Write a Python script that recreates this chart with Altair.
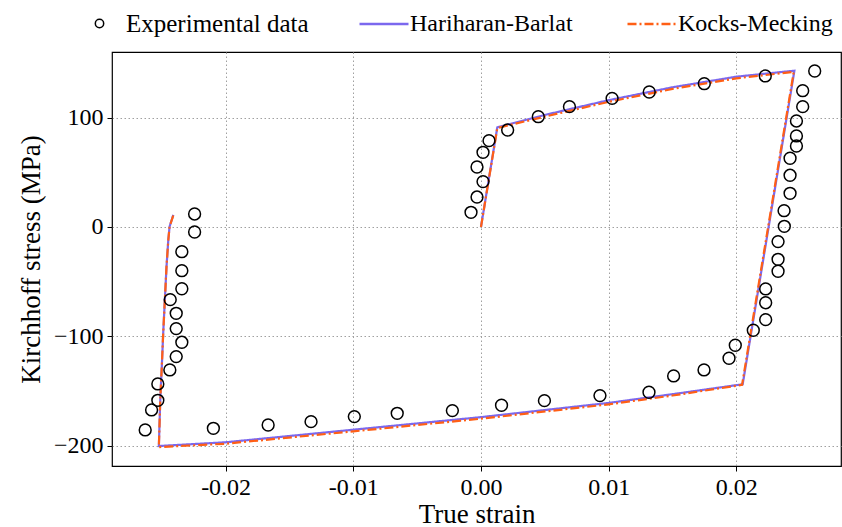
import altair as alt
import pandas as pd

# Experimental cyclic test data (true strain, Kirchhoff stress in MPa)
exp_strain = [
    -0.00078, -0.00031, 0.00016, -0.00031, 0.00016, 0.00063, 0.00209, 0.00449,
    0.00693, 0.01027, 0.01318, 0.01749, 0.02227, 0.02614,
    0.02520, 0.02520, 0.02471, 0.02471, 0.02471, 0.02421, 0.02421, 0.02421,
    0.02374, 0.02376, 0.02327, 0.02327, 0.02327, 0.02230, 0.02230, 0.02230,
    0.02133, 0.01992, 0.01943, 0.01747, 0.01509, 0.01316, 0.00932, 0.00497,
    0.00161, -0.00224, -0.00656, -0.00992, -0.01331, -0.01667, -0.02096,
    -0.02630, -0.02580, -0.02531, -0.02531, -0.02437, -0.02387, -0.02343,
    -0.02387, -0.02387, -0.02434, -0.02343, -0.02343, -0.02343, -0.02243, -0.02243,
]
exp_stress = [
    13.4, 27.4, 41.5, 54.9, 68.3, 79.0, 88.7, 100.9,
    110.1, 117.7, 123.5, 131.1, 138.2, 142.7,
    124.7, 110.1, 97.0, 83.3, 74.1, 62.9, 47.3, 30.8,
    14.9, 0.6, -13.4, -29.6, -40.5, -56.7, -69.3, -84.8,
    -94.5, -108.2, -120.1, -130.8, -136.3, -151.2, -154.3, -158.9,
    -163.1, -168.0, -170.5, -173.5, -178.1, -181.2, -184.2,
    -185.7, -167.4, -158.6, -143.6, -130.8, -118.6, -105.5,
    -93.0, -79.0, -66.5, -56.5, -40.0, -22.6, -4.6, 11.9,
]

# Model predictions
hb_strain = [0.0, 0.00128, 0.0050, 0.0100, 0.0150, 0.0200, 0.02455,
             0.02050, 0.0150, 0.0100, 0.0, -0.0100, -0.0200, -0.02523,
             -0.02512, -0.02500, -0.02489, -0.02476, -0.02463, -0.02449,
             -0.02439, -0.02410]
hb_stress = [0.0, 91.2, 102.5, 116.0, 127.8, 137.5, 143.0,
             -143.9, -153.0, -161.0, -174.0, -185.5, -197.0, -200.4,
             -158.3, -127.8, -97.3, -66.8, -36.3, -11.9,
             0.3, 11.0]

km_strain = [0.0, 0.00128, 0.0050, 0.0100, 0.0150, 0.0200, 0.02450,
             0.02045, 0.0150, 0.0100, 0.0, -0.0100, -0.0200, -0.02523,
             -0.02512, -0.02500, -0.02489, -0.02476, -0.02463, -0.02449,
             -0.02439, -0.02410]
km_stress = [0.0, 90.5, 101.0, 114.5, 126.3, 136.0, 142.0,
             -144.5, -154.2, -162.3, -175.4, -187.0, -198.3, -201.4,
             -158.3, -127.8, -97.3, -66.8, -36.3, -11.9,
             0.3, 10.5]

x_ticks = [-0.02, -0.01, 0.0, 0.01, 0.02]
y_ticks = [-200, -100, 0, 100]

FONT = "Liberation Serif"

exp_df = pd.DataFrame({"strain": exp_strain, "stress": exp_stress,
                       "series": "Experimental data"})
model_df = pd.concat([
    pd.DataFrame({"strain": hb_strain, "stress": hb_stress,
                  "series": "Hariharan-Barlat", "order": range(len(hb_strain))}),
    pd.DataFrame({"strain": km_strain, "stress": km_stress,
                  "series": "Kocks-Mecking", "order": range(len(km_strain))}),
])

x_scale = alt.Scale(domain=[-0.0289, 0.0282], nice=False, zero=False)
y_scale = alt.Scale(domain=[-218.7, 160.1], nice=False, zero=False)

x_axis = alt.Axis(
    title="True strain", values=x_ticks,
    labelExpr="replace(format(datum.value, '.2f'), '\u2212', '-')",
)
y_axis = alt.Axis(
    title="Kirchhoff stress (MPa)", values=y_ticks,
    labelExpr="replace(format(datum.value, 'd'), '-', '\u2212')",
)

series_names = ["Hariharan-Barlat", "Kocks-Mecking"]

model_legend = alt.Legend(
    title=None, orient="none", legendX=246, legendY=-54,
    direction="horizontal", symbolType="stroke", symbolSize=2401,
    symbolStrokeWidth=2.5, labelOffset=0, columnPadding=49, labelLimit=0,
    labelFont=FONT, labelFontSize=24, labelColor="black", padding=0,
)

lines = alt.Chart(model_df).mark_line(strokeWidth=2.2, clip=True).encode(
    x=alt.X("strain:Q", scale=x_scale, axis=x_axis),
    y=alt.Y("stress:Q", scale=y_scale, axis=y_axis),
    order="order:Q",
    color=alt.Color(
        "series:N",
        scale=alt.Scale(domain=series_names, range=["#7B68EE", "#FF5F15"]),
        legend=model_legend,
    ),
    strokeDash=alt.StrokeDash(
        "series:N",
        scale=alt.Scale(domain=series_names, range=[[1, 0], [9, 3, 2, 3]]),
        legend=model_legend,
    ),
)

points = alt.Chart(exp_df).mark_point(
    filled=False, color="black", size=140, strokeWidth=1.5, opacity=1,
).encode(
    x=alt.X("strain:Q", scale=x_scale),
    y=alt.Y("stress:Q", scale=y_scale),
    shape=alt.Shape(
        "series:N",
        scale=alt.Scale(domain=["Experimental data"], range=["circle"]),
        legend=alt.Legend(
            title=None, orient="none", legendX=-25, legendY=-41,
            symbolSize=70, symbolStrokeColor="black", symbolStrokeWidth=1.5,
            symbolFillColor="transparent", labelOffset=14, labelLimit=0,
            labelFont=FONT, labelFontSize=25, labelColor="black", padding=0,
        ),
    ),
)

chart = alt.layer(lines, points).properties(
    width=729, height=414,
    autosize=alt.AutoSizeParams(type="none"),
    padding={"left": 112, "top": 52, "right": 1, "bottom": 61},
).configure(
    font=FONT,
    background="white",
).configure_view(
    stroke="black", strokeWidth=1.2,
).configure_axis(
    domain=False,
    grid=True, gridColor="#a0a0a0", gridDash=[1.5, 2.5], gridWidth=1,
    tickColor="black", tickSize=5, tickWidth=1,
    labelFont=FONT, labelFontSize=24, labelColor="black",
    titleFont=FONT, titleFontSize=27, titleColor="black", titleFontWeight="normal",
).configure_axisX(
    labelPadding=4, titlePadding=2,
).configure_axisY(
    labelPadding=4, titlePadding=8,
)

chart.save("out.html", embed_options={"renderer": "svg", "actions": False})
